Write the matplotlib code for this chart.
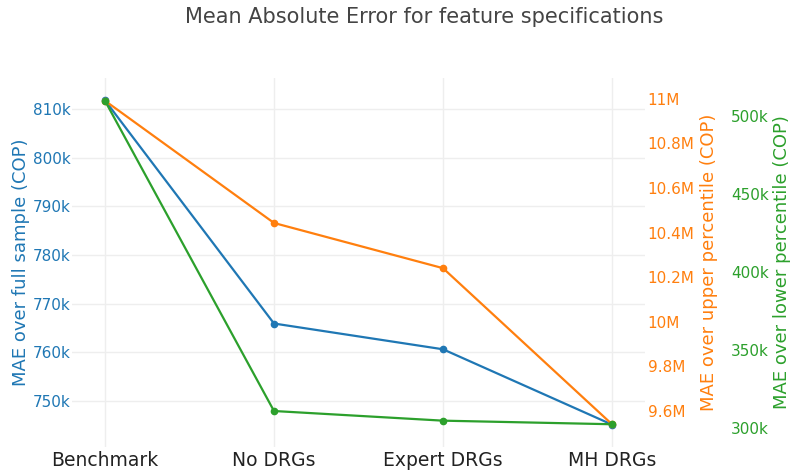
import matplotlib
matplotlib.use("Agg")
import matplotlib.pyplot as plt
from matplotlib.ticker import FuncFormatter, FixedLocator

categories = ["Benchmark", "No DRGs", "Expert DRGs", "MH DRGs"]
mae_full = [811.8e3, 765.9e3, 760.6e3, 745.1e3]
mae_upper = [10.992e6, 10.443e6, 10.240e6, 9.539e6]
mae_lower = [509.8e3, 310.7e3, 304.5e3, 302.2e3]

left_ticks = [750e3, 760e3, 770e3, 780e3, 790e3, 800e3, 810e3]
upper_ticks = [9.6e6, 9.8e6, 10.0e6, 10.2e6, 10.4e6, 10.6e6, 10.8e6, 11.0e6]
lower_ticks = [300e3, 350e3, 400e3, 450e3, 500e3]

BLUE = "#1f77b4"
ORANGE = "#ff7f0e"
GREEN = "#2ca02c"

plt.rcParams['font.family'] = ['DejaVu Sans']

W, H = 795, 472
fig = plt.figure(figsize=(W / 100, H / 100), dpi=100)
L, R, T, B = 72, 645, 78, 447
ax = fig.add_axes([L / W, 1 - B / H, (R - L) / W, (B - T) / H])
ax2 = ax.twinx()
ax3 = ax.twinx()

x = list(range(len(categories)))

ax.plot(x, mae_full, color=BLUE, lw=1.6, marker="o", ms=4.5, zorder=3)
ax2.plot(x, mae_upper, color=ORANGE, lw=1.6, marker="o", ms=4.5, zorder=3)
ax3.plot(x, mae_lower, color=GREEN, lw=1.6, marker="o", ms=4.5, zorder=3)

ax.set_xlim(-0.195, 3.195)
ax.set_ylim(740.5e3, 816.4e3)
ax2.set_ylim(9.437e6, 11.094e6)
ax3.set_ylim(287.6e3, 524.4e3)

ax.set_xticks(x)
ax.set_xticklabels(categories, fontsize=13.5, color="#222222")
ax.yaxis.set_major_locator(FixedLocator(left_ticks))
ax.yaxis.set_major_formatter(FuncFormatter(lambda v, p: f"{v/1e3:.0f}k"))
ax2.yaxis.set_major_locator(FixedLocator(upper_ticks))
ax2.yaxis.set_major_formatter(FuncFormatter(lambda v, p: f"{v/1e6:g}M"))
ax3.yaxis.set_major_locator(FixedLocator(lower_ticks))
ax3.yaxis.set_major_formatter(FuncFormatter(lambda v, p: f"{v/1e3:.0f}k"))

ax.grid(True, color="#eeeeee", lw=1)
ax.set_axisbelow(True)

for a in (ax, ax2, ax3):
    for s in a.spines.values():
        s.set_visible(False)
    a.tick_params(length=0)

ax.tick_params(axis="x", pad=3)
ax.tick_params(axis="y", colors=BLUE, labelsize=11, pad=1)
ax2.tick_params(axis="y", colors=ORANGE, labelsize=11, pad=2)
ax3.spines["right"].set_position(("axes", 1.145))
ax3.tick_params(axis="y", colors=GREEN, labelsize=11, pad=2)

ax.set_ylabel("MAE over full sample (COP)", color=BLUE, fontsize=13, labelpad=2)
ax2.set_ylabel("MAE over upper percentile (COP)", color=ORANGE, fontsize=13, labelpad=4)
ax3.set_ylabel("MAE over lower percentile (COP)", color=GREEN, fontsize=13, labelpad=3)

fig.text(424 / W, 1 - 17 / H, "Mean Absolute Error for feature specifications",
         ha="center", va="center", fontsize=15, color="#444444")

fig.savefig("out.png", dpi=100)
